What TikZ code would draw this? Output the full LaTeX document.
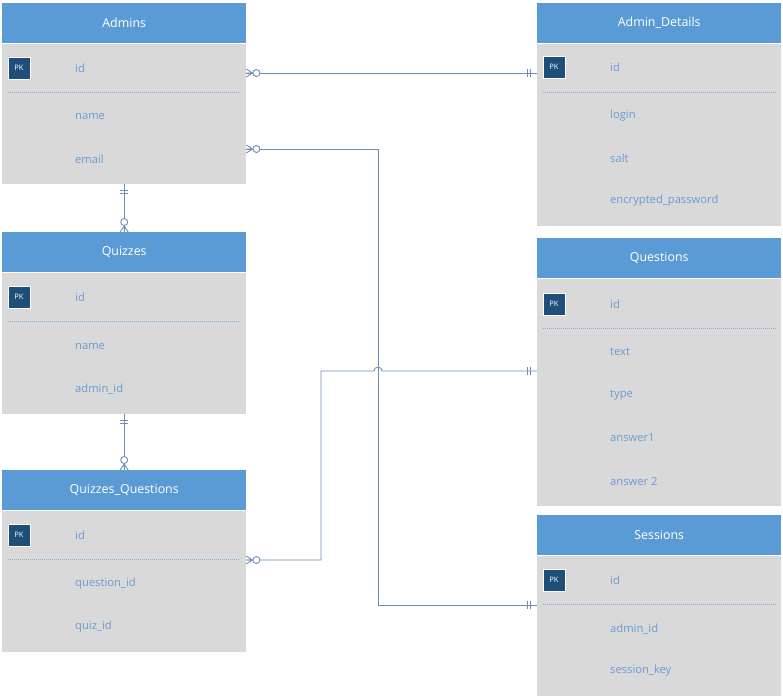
\documentclass[tikz,border=0pt]{standalone}
\usepackage{fontspec}
\setmainfont{Open Sans}
\usetikzlibrary{positioning}

\definecolor{hdrblue}{HTML}{5B9BD5}
\definecolor{bodygray}{HTML}{D9D9D9}
\definecolor{pkblue}{HTML}{1F4E79}
\definecolor{fldblue}{HTML}{6A9BD2}
\definecolor{linkblue}{HTML}{6D8DB6}

\tikzset{
  hdr/.style={fill=hdrblue,text=white,minimum width=244pt,minimum height=40pt,
    inner sep=0pt,anchor=north west,font=\fontsize{12.4}{14}\selectfont},
  tbody/.style={fill=bodygray,minimum width=244pt,inner sep=0pt},
  pk/.style={fill=pkblue,draw=white,line width=0.8pt,text=white,minimum size=22pt,
    inner sep=0pt,font=\fontsize{7.5}{8}\selectfont},
  fld/.style={text=fldblue,anchor=west,inner sep=0pt,font=\fontsize{11.2}{13}\selectfont},
  sep/.style={fldblue!80,dash pattern=on 1pt off 1pt,line width=0.5pt},
  link/.style={linkblue,line width=0.9pt},
  zeromany/.pic={
    \draw[link] (0,-4) -- (6,0) -- (0,4) (0,0) -- (6,0);
    \draw[link,fill=white] (10,0) circle (3.5);
  },
  oneone/.pic={
    \draw[link] (7,-4) -- (7,4) (10,-4) -- (10,4);
  }
}

\begin{document}
\begin{tikzpicture}[x=1pt,y=-1pt]
\useasboundingbox (0,0) rectangle (783,697);

% Admins
\node[hdr] (admH) at (2,3) {Admins};
\node[tbody,minimum height=140pt,below=0pt of admH] (admB) {};
\node[pk] (admPK) at (19,68) {PK};
\node[fld] (adm-id) at (75,68) {id};
\draw[sep] (8,92) -- (240,92);
\foreach \f/\y [count=\i] in {name/116,email/159}
  \node[fld] (adm-\i) at (75,\y) {\f};

% Admin_Details
\node[hdr] (detH) at (537,3) {Admin\_Details};
\node[tbody,minimum height=182pt,below=0pt of detH] (detB) {};
\node[pk] (detPK) at (554,67) {PK};
\node[fld] (det-id) at (610,67) {id};
\draw[sep] (543,92) -- (776,92);
\foreach \f/\y [count=\i] in {login/116,salt/158,encrypted\_password/201}
  \node[fld] (det-\i) at (610,\y) {\f};

% Quizzes
\node[hdr] (quiH) at (2,232) {Quizzes};
\node[tbody,minimum height=141pt,below=0pt of quiH] (quiB) {};
\node[pk] (quiPK) at (19,297) {PK};
\node[fld] (qui-id) at (75,297) {id};
\draw[sep] (8,321) -- (240,321);
\foreach \f/\y [count=\i] in {name/346,admin\_id/389}
  \node[fld] (qui-\i) at (75,\y) {\f};

% Questions
\node[hdr] (queH) at (537,238) {Questions};
\node[tbody,minimum height=227pt,below=0pt of queH] (queB) {};
\node[pk] (quePK) at (554,304) {PK};
\node[fld] (que-id) at (610,304) {id};
\draw[sep] (543,328) -- (776,328);
\foreach \f/\y [count=\i] in {text/352,type/395,answer1/438,answer 2/481}
  \node[fld] (que-\i) at (610,\y) {\f};

% Quizzes_Questions
\node[hdr] (qqH) at (2,470) {Quizzes\_Questions};
\node[tbody,minimum height=141pt,below=0pt of qqH] (qqB) {};
\node[pk] (qqPK) at (19,535) {PK};
\node[fld] (qq-id) at (75,535) {id};
\draw[sep] (8,559) -- (240,559);
\foreach \f/\y [count=\i] in {question\_id/584,quiz\_id/627}
  \node[fld] (qq-\i) at (75,\y) {\f};

% Sessions
\node[hdr] (sesH) at (537,515) {Sessions};
\node[tbody,minimum height=140pt,below=0pt of sesH] (sesB) {};
\node[pk] (sesPK) at (554,580) {PK};
\node[fld] (ses-id) at (610,580) {id};
\draw[sep] (543,604) -- (776,604);
\foreach \f/\y [count=\i] in {admin\_id/629,session\_key/671}
  \node[fld] (ses-\i) at (610,\y) {\f};

% relations
\draw[link] (admB.east |- 0,73) -- (detB.west |- 0,73);
\pic at (admB.east |- 0,73) {zeromany};
\pic[rotate=180] at (detB.west |- 0,73) {oneone};

\draw[link] (admB.east |- 0,149) -- (378,149) -- (378,605) -- (sesB.west |- 0,605);
\pic at (admB.east |- 0,149) {zeromany};
\pic[rotate=180] at (sesB.west |- 0,605) {oneone};

\draw[link] (admB.south) -- (quiH.north);
\pic[rotate=-90] at (admB.south) {oneone};
\pic[rotate=90] at (quiH.north) {zeromany};

\draw[link] (quiB.south) -- (qqH.north);
\pic[rotate=-90] at (quiB.south) {oneone};
\pic[rotate=90] at (qqH.north) {zeromany};

\draw[link] (qqB.east |- 0,560) -- (321,560) -- (321,371) -- (374,371)
  arc (-180:0:4) -- (queB.west |- 0,371);
\pic at (qqB.east |- 0,560) {zeromany};
\pic[rotate=180] at (queB.west |- 0,371) {oneone};

\end{tikzpicture}
\end{document}
